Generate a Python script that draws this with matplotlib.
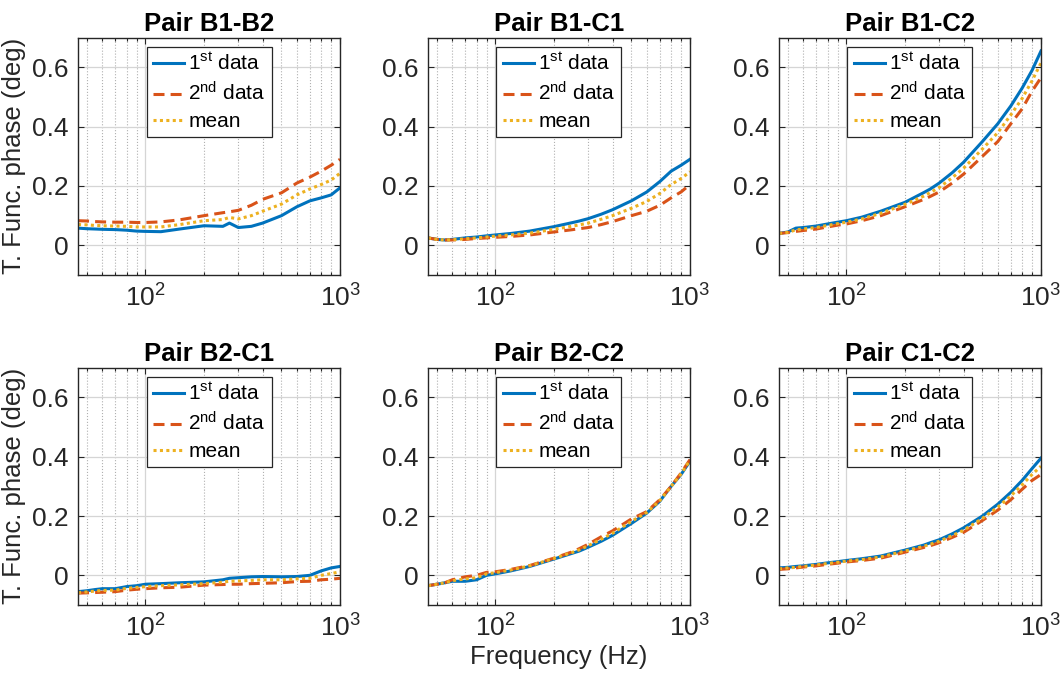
import numpy as np
import matplotlib
matplotlib.use('Agg')
import matplotlib.pyplot as plt

plt.rcParams['font.family'] = ['Liberation Sans', 'DejaVu Sans']
plt.rcParams['mathtext.default'] = 'regular'

# frequency points (Hz)
freq = [45, 50, 55, 60, 70, 80, 90, 100, 120, 150, 200, 250, 270, 300, 350, 400,
        500, 600, 700, 800, 900, 1000]

titles = ['Pair B1-B2', 'Pair B1-C1', 'Pair B1-C2', 'Pair B2-C1', 'Pair B2-C2', 'Pair C1-C2']

# B1-B2
b1b2_first = [0.058, 0.056, 0.055, 0.054, 0.053, 0.051, 0.048, 0.047, 0.046, 0.055, 0.066,
              0.064, 0.075, 0.060, 0.064, 0.075, 0.100, 0.130, 0.150, 0.160, 0.170, 0.194]
b1b2_second = [0.083, 0.082, 0.080, 0.079, 0.078, 0.078, 0.077, 0.077, 0.079, 0.086, 0.100,
               0.110, 0.113, 0.118, 0.135, 0.155, 0.177, 0.210, 0.230, 0.250, 0.270, 0.290]
b1b2_mean = [0.070, 0.069, 0.067, 0.066, 0.065, 0.064, 0.062, 0.062, 0.062, 0.070, 0.083,
             0.087, 0.094, 0.089, 0.100, 0.115, 0.139, 0.170, 0.190, 0.205, 0.220, 0.243]
# B1-C1
b1c1_first = [0.025, 0.020, 0.018, 0.020, 0.025, 0.028, 0.032, 0.035, 0.040, 0.048, 0.063,
              0.077, 0.082, 0.090, 0.105, 0.120, 0.150, 0.180, 0.215, 0.250, 0.270, 0.290]
b1c1_second = [0.025, 0.020, 0.018, 0.018, 0.020, 0.023, 0.025, 0.027, 0.030, 0.035, 0.045,
               0.053, 0.056, 0.060, 0.070, 0.080, 0.100, 0.115, 0.135, 0.160, 0.180, 0.205]
b1c1_mean = [0.025, 0.020, 0.018, 0.019, 0.022, 0.025, 0.028, 0.031, 0.035, 0.041, 0.054,
             0.065, 0.069, 0.075, 0.088, 0.100, 0.125, 0.148, 0.175, 0.205, 0.225, 0.248]
# B1-C2
b1c2_first = [0.040, 0.045, 0.058, 0.060, 0.065, 0.072, 0.078, 0.083, 0.095, 0.115, 0.145,
              0.178, 0.190, 0.210, 0.245, 0.280, 0.350, 0.410, 0.470, 0.530, 0.590, 0.655]
b1c2_second = [0.040, 0.043, 0.047, 0.050, 0.055, 0.062, 0.068, 0.072, 0.083, 0.100, 0.130,
               0.155, 0.165, 0.180, 0.210, 0.240, 0.300, 0.350, 0.410, 0.460, 0.520, 0.565]
b1c2_mean = [0.040, 0.044, 0.052, 0.055, 0.060, 0.067, 0.073, 0.078, 0.089, 0.108, 0.138,
             0.166, 0.178, 0.195, 0.228, 0.260, 0.325, 0.380, 0.440, 0.495, 0.555, 0.615]
# B2-C1
b2c1_first = [-0.055, -0.052, -0.048, -0.045, -0.045, -0.038, -0.035, -0.030, -0.028, -0.025, -0.022,
              -0.015, -0.010, -0.008, -0.005, -0.004, -0.005, -0.004, 0.000, 0.015, 0.025, 0.030]
b2c1_second = [-0.060, -0.059, -0.058, -0.057, -0.055, -0.050, -0.047, -0.045, -0.042, -0.040, -0.033,
               -0.031, -0.030, -0.030, -0.028, -0.027, -0.025, -0.021, -0.020, -0.015, -0.013, -0.010]
b2c1_mean = [-0.058, -0.056, -0.053, -0.051, -0.050, -0.044, -0.041, -0.038, -0.035, -0.032, -0.028,
             -0.023, -0.020, -0.019, -0.017, -0.015, -0.015, -0.012, -0.010, 0.000, 0.006, 0.012]
# B2-C2
b2c2_first = [-0.035, -0.030, -0.025, -0.020, -0.020, -0.015, 0.000, 0.005, 0.015, 0.030, 0.055,
              0.075, 0.082, 0.095, 0.115, 0.135, 0.175, 0.210, 0.250, 0.300, 0.340, 0.385]
b2c2_second = [-0.035, -0.030, -0.025, -0.015, -0.005, 0.000, 0.010, 0.012, 0.020, 0.033, 0.058,
               0.080, 0.090, 0.105, 0.130, 0.150, 0.190, 0.215, 0.255, 0.300, 0.345, 0.390]
b2c2_mean = [-0.035, -0.030, -0.025, -0.018, -0.012, -0.008, 0.005, 0.009, 0.018, 0.032, 0.057,
             0.078, 0.086, 0.100, 0.122, 0.142, 0.182, 0.212, 0.252, 0.300, 0.342, 0.388]
# C1-C2
c1c2_first = [0.025, 0.027, 0.030, 0.032, 0.037, 0.042, 0.046, 0.050, 0.056, 0.065, 0.085,
              0.102, 0.110, 0.120, 0.140, 0.160, 0.200, 0.240, 0.280, 0.320, 0.360, 0.395]
c1c2_second = [0.020, 0.022, 0.025, 0.028, 0.032, 0.037, 0.041, 0.045, 0.050, 0.058, 0.078,
               0.094, 0.100, 0.110, 0.128, 0.145, 0.185, 0.220, 0.255, 0.290, 0.320, 0.340]
c1c2_mean = [0.022, 0.025, 0.027, 0.030, 0.035, 0.040, 0.044, 0.048, 0.053, 0.062, 0.082,
             0.098, 0.105, 0.115, 0.134, 0.152, 0.192, 0.230, 0.268, 0.305, 0.340, 0.368]

first = [b1b2_first, b1c1_first, b1c2_first, b2c1_first, b2c2_first, c1c2_first]
second = [b1b2_second, b1c1_second, b1c2_second, b2c1_second, b2c2_second, c1c2_second]
means = [b1b2_mean, b1c1_mean, b1c2_mean, b2c1_mean, b2c2_mean, c1c2_mean]

blue, orange, yellow = '#0072BD', '#D95319', '#EDB120'
dark = '#262626'

fig = plt.figure(figsize=(10.63, 6.8), dpi=100)
lefts = [0.0734, 0.4026, 0.7328]
bottoms = [0.5956, 0.1103]
w, h = 0.2465, 0.349

for i in range(6):
    r, c = divmod(i, 3)
    ax = fig.add_axes([lefts[c], bottoms[r], w, h])
    ax.semilogx(freq, first[i], '-', color=blue, lw=2.2, label=r'1$^{st}$ data')
    ax.semilogx(freq, second[i], '--', color=orange, lw=2.2, dashes=(3.6, 2.0), label=r'2$^{nd}$ data')
    ax.semilogx(freq, means[i], ':', color=yellow, lw=2.2, dashes=(1, 1.1), label='mean')
    ax.set_xlim(45, 1000)
    ax.set_ylim(-0.1, 0.7)
    ax.set_yticks([0, 0.2, 0.4, 0.6])
    ax.set_yticklabels(['0', '0.2', '0.4', '0.6'])
    ax.set_xticks([100, 1000])
    ax.set_xticklabels(['$10^2$', '$10^3$'])
    ax.grid(True, which='major', color='#d5d5d5', lw=0.9)
    ax.xaxis.grid(True, which='minor', color='#b0b0b0', ls=':', lw=0.8)
    ax.set_axisbelow(True)
    ax.tick_params(which='both', direction='in', top=True, right=True, labelsize=19,
                   colors=dark, width=0.8)
    ax.tick_params(which='major', length=4, pad=7)
    ax.tick_params(which='minor', length=2, labelbottom=False)
    for s in ax.spines.values():
        s.set_color(dark)
        s.set_linewidth(1.0)
    ax.set_title(titles[i], fontsize=18.5, fontweight='bold', pad=5)
    if c == 0:
        ax.set_ylabel('T. Func. phase (deg)', fontsize=18.5, color=dark, labelpad=4)
    if i == 4:
        ax.set_xlabel('Frequency (Hz)', fontsize=18.5, color=dark, labelpad=2)
    leg = ax.legend(loc='upper center', bbox_to_anchor=(0.5, 0.98), fontsize=15,
                    handlelength=1.5, handletextpad=0.2, labelspacing=0.35,
                    borderpad=0.3, borderaxespad=0.2, fancybox=False, framealpha=1)
    leg.get_frame().set_edgecolor(dark)
    leg.get_frame().set_linewidth(0.9)

fig.savefig('out.png', dpi=100)
